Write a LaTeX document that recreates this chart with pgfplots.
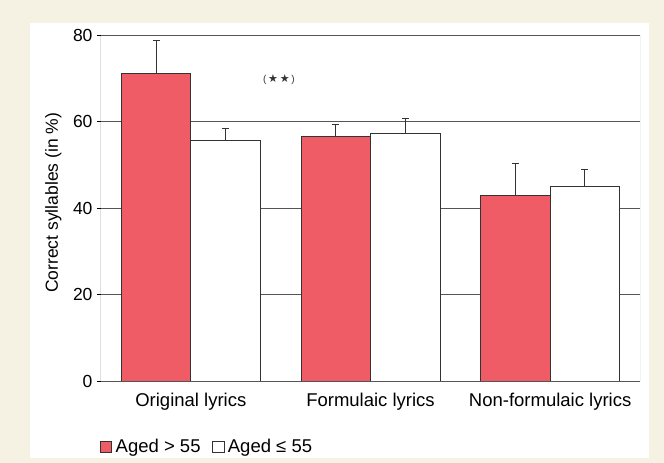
\documentclass[border=0pt]{standalone}
\usepackage{fontspec}
\setmainfont{Liberation Sans}
\newfontfamily\djv{DejaVu Sans}
\usepackage{pgfplots}
\pgfplotsset{compat=1.18}
\definecolor{cream}{HTML}{F5F1E3}
\definecolor{barred}{HTML}{EF5C66}
\definecolor{outl}{HTML}{333333}
\definecolor{gridc}{HTML}{555555}
\newcommand{\fs}{\fontsize{17.5}{21}\selectfont}
\newcommand{\fl}{\fontsize{18.5}{22}\selectfont}
\begin{document}
\begin{tikzpicture}
\fill[cream] (-101pt,-82pt) rectangle (563pt,381pt);
\fill[white] (-71pt,-77pt) rectangle (548pt,358pt);
\begin{axis}[
  at={(0pt,0pt)}, anchor=south west,
  scale only axis, width=539pt, height=346pt,
  xmin=-0.5, xmax=2.5, ymin=0, ymax=80,
  ybar=0pt, bar width=69.5pt,
  axis line style={draw=none},
  ytick={0,20,40,60,80},
  ytick pos=left, tick align=outside,
  major tick length=4pt,
  ytick style={draw=black, line width=0.8pt},
  xtick={0,1,2}, xtick style={draw=none},
  xticklabels={Original lyrics, Formulaic lyrics, Non-formulaic lyrics},
  xticklabel style={font=\fl, yshift=-5pt},
  yticklabel style={font=\fs, xshift=-1pt},
  /pgf/number format/assume math mode=true,
  ymajorgrids, grid style={gridc, line width=1pt},
  ylabel={Correct syllables (in \%)},
  ylabel style={font=\fs, at={(axis description cs:0,0.515)}, anchor=south, yshift=36pt},
  legend style={at={(axis description cs:-0.002,-0.19)}, anchor=west, draw=none, fill=none,
    font=\fl, inner sep=0pt, outer sep=0pt, column sep=0pt,
    nodes={inner sep=1.5pt}},
  legend cell align=left,
  legend columns=2,
  legend image code/.code={\draw[#1, line width=0.8pt] (0pt,-5.8pt) rectangle (11.5pt,5.8pt);},
  error bars/y dir=plus, error bars/y explicit,
  error bars/error bar style={outl, line width=0.9pt},
  error bars/error mark options={rotate=90, mark size=3.5pt, line width=0.9pt, outl},
]
\addplot[fill=barred, draw=outl, line width=1pt] coordinates {
  (0,71.2) +- (0,7.6)
  (1,56.6) +- (0,2.8)
  (2,42.8) +- (0,7.5)
};
\addlegendentry{\hspace{2pt}Aged > 55\hspace{10pt}\mbox{}}
\addplot[fill=white, draw=outl, line width=1pt] coordinates {
  (0,55.5) +- (0,2.8)
  (1,57.3) +- (0,3.5)
  (2,44.9) +- (0,4.0)
};
\addlegendentry{\hspace{2pt}Aged ≤ 55}
\draw[black, line width=1pt] (rel axis cs:0,0) -- (rel axis cs:0,1);
\draw[gridc, line width=1pt] (rel axis cs:0,1) -- (rel axis cs:1,1);
\draw[gridc, line width=1pt] (rel axis cs:0,0) -- (rel axis cs:1,0);
\draw[gray!80, line width=1pt] (rel axis cs:1,0) -- (rel axis cs:1,1);
\node[font=\fontsize{10}{12}\selectfont, text=outl] at (axis cs:0.49,69.6) {(\,{\djv\fontsize{11}{12}\selectfont ★\,★}\,)};
\end{axis}
\pgfresetboundingbox
\useasboundingbox (-101pt,-82pt) rectangle (563pt,381pt);
\end{tikzpicture}
\end{document}
